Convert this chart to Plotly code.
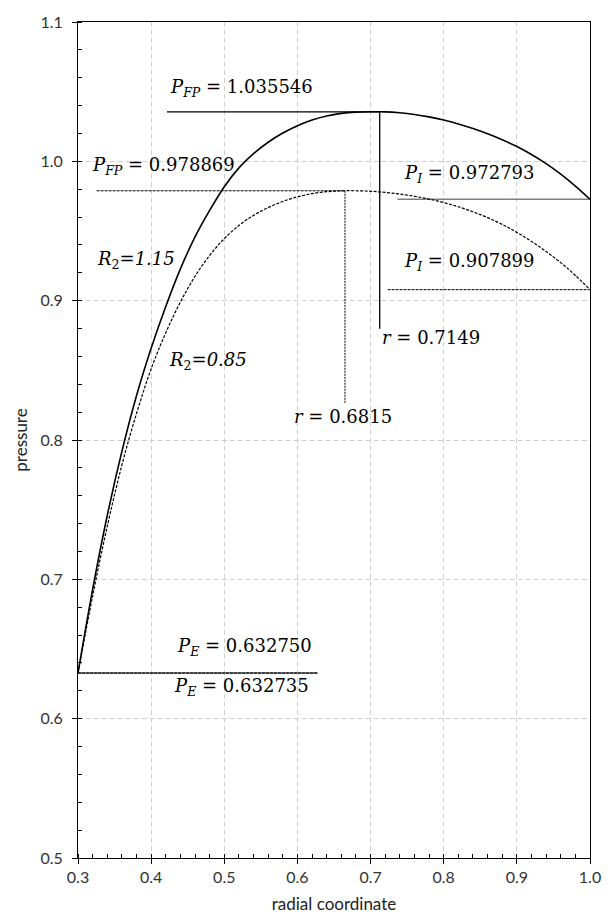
import plotly.graph_objects as go

# ---------------- data ----------------
r_vals = [0.30, 0.32, 0.34, 0.36, 0.38, 0.40, 0.42, 0.44, 0.46, 0.48, 0.50, 0.52,
          0.54, 0.56, 0.58, 0.60, 0.62, 0.64, 0.66, 0.68, 0.70, 0.72, 0.74, 0.76,
          0.78, 0.80, 0.82, 0.84, 0.86, 0.88, 0.90, 0.92, 0.94, 0.96, 0.98, 1.00]

p_r2_115 = [0.63275, 0.6928, 0.7458, 0.7918, 0.8318, 0.8658, 0.8958, 0.9228, 0.9458,
            0.9648, 0.9818, 0.9953, 1.0055, 1.0137, 1.0203, 1.0256, 1.0297, 1.0326,
            1.0344, 1.0353, 1.03555, 1.03553, 1.03487, 1.03367, 1.03192, 1.02962,
            1.02678, 1.0235, 1.01978, 1.01551, 1.01059, 1.0049, 0.99834, 0.99079,
            0.98226, 0.972793]

p_r2_085 = [0.632735, 0.688, 0.738, 0.782, 0.819, 0.851, 0.877, 0.899, 0.9175,
            0.9325, 0.9445, 0.954, 0.9612, 0.9668, 0.9712, 0.9745, 0.9768, 0.9782,
            0.97883, 0.97887, 0.9785, 0.9777, 0.9765, 0.9749, 0.9729, 0.9704,
            0.9674, 0.9638, 0.9596, 0.9547, 0.9490, 0.9425, 0.9353, 0.9273,
            0.9181, 0.907899]

# marker values
PFP_115 = 1.035546
PFP_085 = 0.978869
PI_115 = 0.972793
PI_085 = 0.907899
PE_115 = 0.632750
PE_085 = 0.632735
r_peak_115_label = "0.7149"
r_peak_085_label = "0.6815"

# guide line extents (as drawn in the picture)
pfp115_x = [0.4217, 0.7125]
peak115_vline_y = [PFP_115, 0.8798]
pfp085_x = [0.3255, 0.665]
peak085_vline_y = [PFP_085, 0.826]
pi115_x = [0.7367, 1.0]
pi085_x = [0.7233, 1.0]
pe_x = [0.30, 0.6277]

x_ticks = [0.3, 0.4, 0.5, 0.6, 0.7, 0.8, 0.9, 1.0]
y_ticks = [0.5, 0.6, 0.7, 0.8, 0.9, 1.0, 1.1]

# ---------------- figure ----------------
fig = go.Figure()

BLACK = "#000000"
GRAY = "#7f7f7f"

def line(x, y, color=BLACK, width=1.2, dash="solid"):
    fig.add_trace(go.Scatter(x=x, y=y, mode="lines", hoverinfo="skip",
                             line=dict(color=color, width=width, dash=dash),
                             showlegend=False))

# guide lines
line(pe_x, [PE_115, PE_115], color=GRAY, width=2.0)
line(pe_x, [PE_085, PE_085], color=BLACK, width=1.0, dash="3px,1px")
line(pfp115_x, [PFP_115, PFP_115], width=1.3)
line([pfp115_x[1], pfp115_x[1]], peak115_vline_y, width=1.3)
line(pfp085_x, [PFP_085, PFP_085], width=1.0, dash="3px,1px")
line([pfp085_x[1], pfp085_x[1]], peak085_vline_y, width=1.0, dash="2px,1px")
line(pi115_x, [PI_115, PI_115], color=GRAY, width=1.6)
line(pi085_x, [PI_085, PI_085], width=1.0, dash="3px,1px")

# curves
fig.add_trace(go.Scatter(x=r_vals, y=p_r2_115, mode="lines", name="R2=1.15",
                         line=dict(color=BLACK, width=1.6, shape="spline"),
                         showlegend=False))
fig.add_trace(go.Scatter(x=r_vals, y=p_r2_085, mode="lines", name="R2=0.85",
                         line=dict(color=BLACK, width=1.2, shape="spline",
                                   dash="3px,1.5px"),
                         showlegend=False))

SERIF = "DejaVu Serif"
ann_font = dict(family=SERIF, size=18, color=BLACK)

def label(x, y, text):
    fig.add_annotation(x=x, y=y, xref="x", yref="y", text=text, showarrow=False,
                       xanchor="left", yanchor="middle", font=ann_font)

label(0.4232, 1.0529, "<i>P</i><sub><i>FP</i></sub> = %.6f" % PFP_115)
label(0.3170, 0.9968, "<i>P</i><sub><i>FP</i></sub> = %.6f" % PFP_085)
label(0.7430, 0.9907, "<i>P</i><sub><i>I</i></sub> = %.6f" % PI_115)
label(0.7430, 0.9274, "<i>P</i><sub><i>I</i></sub> = %.6f" % PI_085)
label(0.7135, 0.8733, "<i>r</i> = " + r_peak_115_label)
label(0.5920, 0.8170, "<i>r</i> = " + r_peak_085_label)
label(0.3230, 0.9294, "<i>R</i><sub>2</sub><i>=1.15</i>")
label(0.4222, 0.8569, "<i>R</i><sub>2</sub><i>=0.85</i>")
label(0.4330, 0.6516, "<i>P</i><sub><i>E</i></sub> = %.6f" % PE_115)
label(0.4285, 0.6225, "<i>P</i><sub><i>E</i></sub> = %.6f" % PE_085)

SANS = "Lato"
tick_font = dict(family=SANS, size=16, color="#333333")

fig.update_xaxes(
    range=[0.3, 1.0], tickvals=x_ticks, ticktext=["%.1f" % v for v in x_ticks],
    ticks="outside", ticklen=5, tickcolor=BLACK, tickwidth=1,
    showline=True, linecolor=BLACK, linewidth=1, mirror=True,
    showgrid=True, gridcolor="#cfcfcf", gridwidth=1, griddash="5px,3px",
    zeroline=False, tickfont=tick_font,
    minor=dict(dtick=0.02, ticks="inside", ticklen=4, tickcolor=BLACK, showgrid=False),
    title=dict(text="radial coordinate", font=dict(family=SANS, size=17, color="#222222"),
               standoff=12),
)
fig.update_yaxes(
    range=[0.5, 1.1], tickvals=y_ticks, ticktext=["%.1f" % v for v in y_ticks],
    ticks="outside", ticklen=5, tickcolor=BLACK, tickwidth=1,
    showline=True, linecolor=BLACK, linewidth=1, mirror=True,
    showgrid=True, gridcolor="#cfcfcf", gridwidth=1, griddash="5px,3px",
    zeroline=False, tickfont=tick_font, ticklabelstandoff=6,
    minor=dict(dtick=0.02, ticks="inside", ticklen=4, tickcolor=BLACK, showgrid=False),
    title=dict(text="pressure", font=dict(family=SANS, size=17, color="#222222"),
               standoff=8),
)

fig.update_layout(
    width=613, height=922,
    margin=dict(l=78, r=12, t=13, b=64),
    paper_bgcolor="white", plot_bgcolor="white",
    showlegend=False,
)

fig.write_html("out.html")
